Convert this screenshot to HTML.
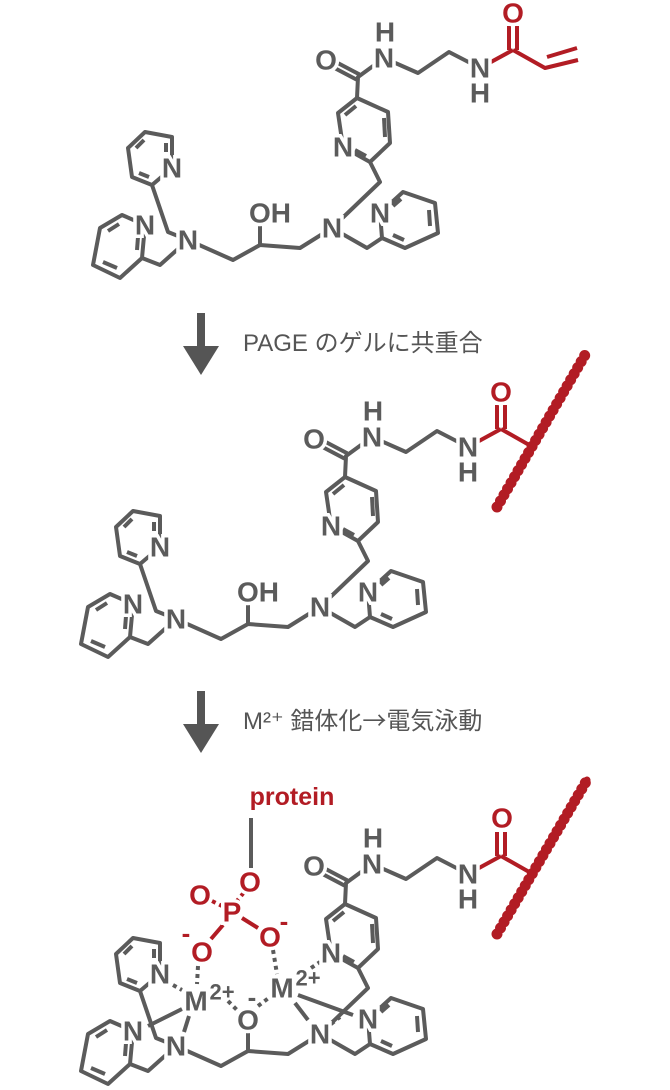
<!DOCTYPE html>
<html><head><meta charset="utf-8"><style>
html,body{margin:0;padding:0;background:#fff}
svg{display:block}
.b{stroke:#5b5b5b;stroke-width:4;fill:none;stroke-linejoin:round}
.r{stroke:#b21c24;stroke-width:4;fill:none;stroke-linejoin:round}
.d{stroke:#5b5b5b;stroke-width:4;fill:none;stroke-dasharray:4 4}
.dr{stroke:#b21c24;stroke-width:4;fill:none;stroke-dasharray:4 4}
text{font-family:"Liberation Sans",Arial,sans-serif;text-anchor:middle;dominant-baseline:central}
.a{font-size:28px;font-weight:bold;fill:#5b5b5b;paint-order:stroke;stroke:#fff;stroke-width:7}
.ar{font-size:28px;font-weight:bold;fill:#b21c24;paint-order:stroke;stroke:#fff;stroke-width:7}
.cap{font-family:"Liberation Sans","Noto Sans CJK JP",sans-serif;font-size:24px;fill:#555;text-anchor:start;dominant-baseline:auto}
.chain{stroke:#b21c24;fill:none;stroke-linecap:round}
</style></head><body>
<svg width="670" height="1090" viewBox="0 0 670 1090" xmlns="http://www.w3.org/2000/svg">

<!-- ===== TOP ===== -->
<g>
<line class="b" x1="359.4" y1="74.4" x2="333" y2="60.5"/><line class="b" x1="356.6" y1="79.6" x2="330" y2="65.6"/>
<polyline class="b" points="384,58 358,77 357,98"/>
<polyline class="b" points="384,58 418,73 449,52 480,68"/>
<polygon class="b" points="357,98 338,113 343,147 370,162 390,143 388,112"/>
<line class="b" x1="356" y1="106" x2="345" y2="115"/><line class="b" x1="385" y1="137" x2="384" y2="118"/><line class="b" x1="355" y1="150" x2="366" y2="156"/>
<polyline class="b" points="370,162 380,182 332,228 300,248 260,245 233,260 188,240"/>
<polyline class="b" points="332,228 367,248 382,238"/>
<polygon class="b" points="382,238 380,213 403,192 435,203 438,233 405,248"/>
<line class="b" x1="393" y1="206" x2="401" y2="199"/><line class="b" x1="429" y1="210" x2="430" y2="226"/><line class="b" x1="404" y1="240" x2="393" y2="235"/>
<line class="b" x1="260" y1="245" x2="260" y2="226"/>
<polyline class="b" points="188,240 160,265 142,258"/>
<polyline class="b" points="188,240 168,232 152,185"/>
<polygon class="b" points="152,185 172,168 172,137 145,132 128,148 132,177"/>
<line class="b" x1="144" y1="140" x2="136" y2="148"/><line class="b" x1="166" y1="143" x2="166" y2="152"/><line class="b" x1="139" y1="173" x2="149" y2="177"/>
<polygon class="b" points="142,258 145,225 122,215 100,228 93,265 120,278"/>
<line class="b" x1="137" y1="250" x2="138" y2="237"/><line class="b" x1="119" y1="224" x2="108" y2="231"/><line class="b" x1="103" y1="262" x2="117" y2="268"/>
<line class="r" x1="480" y1="68" x2="513" y2="50"/>
<line class="r" x1="509" y1="50" x2="509" y2="26"/><line class="r" x1="517" y1="50" x2="517" y2="26"/>
<polyline class="r" points="513,50 545,68 578,60"/><line class="r" x1="547" y1="57" x2="577" y2="48"/>
<text class="a" x="326" y="60">O</text>
<text class="a" x="384" y="58">N</text><text class="a" x="385" y="32">H</text>
<text class="a" x="480" y="68">N</text><text class="a" x="480" y="93">H</text>
<text class="ar" x="513" y="13">O</text>
<text class="a" x="343" y="147">N</text>
<text class="a" x="332" y="228">N</text>
<text class="a" x="380" y="213">N</text>
<text class="a" x="270" y="213">OH</text>
<text class="a" x="188" y="240">N</text>
<text class="a" x="172" y="168">N</text>
<text class="a" x="145" y="225">N</text>
</g>

<!-- arrow 1 -->
<rect x="197" y="313" width="8" height="36" fill="#555"/>
<polygon points="183,346 219,346 201,375" fill="#555"/>
<text class="cap" x="243" y="351">PAGE のゲルに共重合</text>

<!-- ===== MIDDLE ===== -->
<g transform="translate(-12,379)">
<line class="b" x1="359.4" y1="74.4" x2="333" y2="60.5"/><line class="b" x1="356.6" y1="79.6" x2="330" y2="65.6"/>
<polyline class="b" points="384,58 358,77 357,98"/>
<polyline class="b" points="384,58 418,73 449,52 480,68"/>
<polygon class="b" points="357,98 338,113 343,147 370,162 390,143 388,112"/>
<line class="b" x1="356" y1="106" x2="345" y2="115"/><line class="b" x1="385" y1="137" x2="384" y2="118"/><line class="b" x1="355" y1="150" x2="366" y2="156"/>
<polyline class="b" points="370,162 380,182 332,228 300,248 260,245 233,260 188,240"/>
<polyline class="b" points="332,228 367,248 382,238"/>
<polygon class="b" points="382,238 380,213 403,192 435,203 438,233 405,248"/>
<line class="b" x1="393" y1="206" x2="401" y2="199"/><line class="b" x1="429" y1="210" x2="430" y2="226"/><line class="b" x1="404" y1="240" x2="393" y2="235"/>
<line class="b" x1="260" y1="245" x2="260" y2="226"/>
<polyline class="b" points="188,240 160,265 142,258"/>
<polyline class="b" points="188,240 168,232 152,185"/>
<polygon class="b" points="152,185 172,168 172,137 145,132 128,148 132,177"/>
<line class="b" x1="144" y1="140" x2="136" y2="148"/><line class="b" x1="166" y1="143" x2="166" y2="152"/><line class="b" x1="139" y1="173" x2="149" y2="177"/>
<polygon class="b" points="142,258 145,225 122,215 100,228 93,265 120,278"/>
<line class="b" x1="137" y1="250" x2="138" y2="237"/><line class="b" x1="119" y1="224" x2="108" y2="231"/><line class="b" x1="103" y1="262" x2="117" y2="268"/>
<line class="r" x1="480" y1="68" x2="513" y2="50"/>
<line class="r" x1="509" y1="50" x2="509" y2="26"/><line class="r" x1="517" y1="50" x2="517" y2="26"/>
<line class="r" x1="513" y1="50" x2="543" y2="67"/>
<line class="chain" x1="509" y1="128" x2="597" y2="-24" stroke-width="7"/>
<line class="chain" x1="509" y1="128" x2="597" y2="-24" stroke-width="11" stroke-dasharray="0 7"/>
<text class="a" x="326" y="60">O</text>
<text class="a" x="384" y="58">N</text><text class="a" x="385" y="32">H</text>
<text class="a" x="480" y="68">N</text><text class="a" x="480" y="93">H</text>
<text class="ar" x="513" y="13">O</text>
<text class="a" x="343" y="147">N</text>
<text class="a" x="332" y="228">N</text>
<text class="a" x="380" y="213">N</text>
<text class="a" x="270" y="213">OH</text>
<text class="a" x="188" y="240">N</text>
<text class="a" x="172" y="168">N</text>
<text class="a" x="145" y="225">N</text>
</g>

<!-- arrow 2 -->
<rect x="197" y="691" width="8" height="36" fill="#555"/>
<polygon points="183,724 219,724 201,753" fill="#555"/>
<text class="cap" x="243" y="729">M²⁺ 錯体化<tspan style='font-family:"Noto Sans CJK JP",sans-serif'>→</tspan>電気泳動</text>

<!-- ===== BOTTOM ===== -->
<g transform="translate(-12,806)">
<line class="b" x1="359.4" y1="74.4" x2="333" y2="60.5"/><line class="b" x1="356.6" y1="79.6" x2="330" y2="65.6"/>
<polyline class="b" points="384,58 358,77 357,98"/>
<polyline class="b" points="384,58 418,73 449,52 480,68"/>
<polygon class="b" points="357,98 338,113 343,147 370,162 390,143 388,112"/>
<line class="b" x1="356" y1="106" x2="345" y2="115"/><line class="b" x1="385" y1="137" x2="384" y2="118"/><line class="b" x1="355" y1="150" x2="366" y2="156"/>
<polyline class="b" points="370,162 380,182 332,228 300,248 260,245 233,260 188,240"/>
<polyline class="b" points="332,228 367,248 382,238"/>
<polygon class="b" points="382,238 380,213 403,192 435,203 438,233 405,248"/>
<line class="b" x1="393" y1="206" x2="401" y2="199"/><line class="b" x1="429" y1="210" x2="430" y2="226"/><line class="b" x1="404" y1="240" x2="393" y2="235"/>
<line class="b" x1="260" y1="245" x2="260" y2="226"/>
<polyline class="b" points="188,240 160,265 142,258"/>
<polyline class="b" points="188,240 168,232 152,185"/>
<polygon class="b" points="152,185 172,168 172,137 145,132 128,148 132,177"/>
<line class="b" x1="144" y1="140" x2="136" y2="148"/><line class="b" x1="166" y1="143" x2="166" y2="152"/><line class="b" x1="139" y1="173" x2="149" y2="177"/>
<polygon class="b" points="142,258 145,225 122,215 100,228 93,265 120,278"/>
<line class="b" x1="137" y1="250" x2="138" y2="237"/><line class="b" x1="119" y1="224" x2="108" y2="231"/><line class="b" x1="103" y1="262" x2="117" y2="268"/>
<line class="r" x1="480" y1="68" x2="513" y2="50"/>
<line class="r" x1="509" y1="50" x2="509" y2="26"/><line class="r" x1="517" y1="50" x2="517" y2="26"/>
<line class="r" x1="513" y1="50" x2="543" y2="67"/>
<line class="chain" x1="509" y1="128" x2="599" y2="-26" stroke-width="7"/>
<line class="chain" x1="509" y1="128" x2="599" y2="-26" stroke-width="11" stroke-dasharray="0 7"/>
</g>
<!-- coordination bonds (absolute) -->
<line class="b" x1="251" y1="818" x2="251" y2="868"/>
<line class="dr" x1="236" y1="902" x2="246" y2="890"/>
<line class="dr" x1="212" y1="901" x2="224" y2="907"/>
<line class="r" x1="242" y1="918" x2="258" y2="928"/>
<line class="r" x1="223" y1="925" x2="211" y2="939"/>
<line class="d" x1="198" y1="966" x2="197" y2="984"/>
<line class="d" x1="273" y1="950" x2="277" y2="974"/>
<line class="d" x1="173" y1="985" x2="182" y2="990"/>
<line class="b" x1="182" y1="1009" x2="148" y2="1026"/>
<line class="b" x1="189" y1="1016" x2="184" y2="1032"/>
<line class="d" x1="228" y1="1001" x2="238" y2="1011"/>
<line class="d" x1="258" y1="1006" x2="270" y2="997"/>
<line class="d" x1="311" y1="968" x2="320" y2="962"/>
<line class="b" x1="298" y1="995" x2="353" y2="1015"/>
<line class="b" x1="295" y1="1003" x2="308" y2="1020"/>
<line class="d" x1="331" y1="1024" x2="340" y2="1017"/>
<!-- bottom labels -->
<text class="a" x="314" y="866">O</text>
<text class="a" x="372" y="864">N</text><text class="a" x="373" y="838">H</text>
<text class="a" x="468" y="874">N</text><text class="a" x="468" y="899">H</text>
<text class="ar" x="502" y="818">O</text>
<text class="a" x="331" y="953">N</text>
<text class="a" x="320" y="1034">N</text>
<text class="a" x="368" y="1019">N</text>
<text class="a" x="176" y="1046">N</text>
<text class="a" x="160" y="974">N</text>
<text class="a" x="133" y="1031">N</text>
<text class="a" x="248" y="1020">O</text>
<text x="252" y="997" style="font-size:26px;font-weight:bold;fill:#5b5b5b">-</text>
<text class="a" x="196" y="1001">M</text>
<text x="222" y="992" style="font-size:22px;font-weight:bold;fill:#5b5b5b">2+</text>
<text class="a" x="282" y="988">M</text>
<text x="308" y="978" style="font-size:22px;font-weight:bold;fill:#5b5b5b">2+</text>
<text class="ar" x="250" y="882">O</text>
<text class="ar" x="232" y="912">P</text>
<text class="ar" x="200" y="895">O</text>
<text class="ar" x="202" y="952">O</text>
<text x="186" y="933" style="font-size:26px;font-weight:bold;fill:#b21c24">-</text>
<text class="ar" x="270" y="937">O</text>
<text x="284" y="921" style="font-size:26px;font-weight:bold;fill:#b21c24">-</text>
<text x="292" y="797" style="font-size:25px;font-weight:bold;fill:#b21c24">protein</text>
</svg>
</body></html>
